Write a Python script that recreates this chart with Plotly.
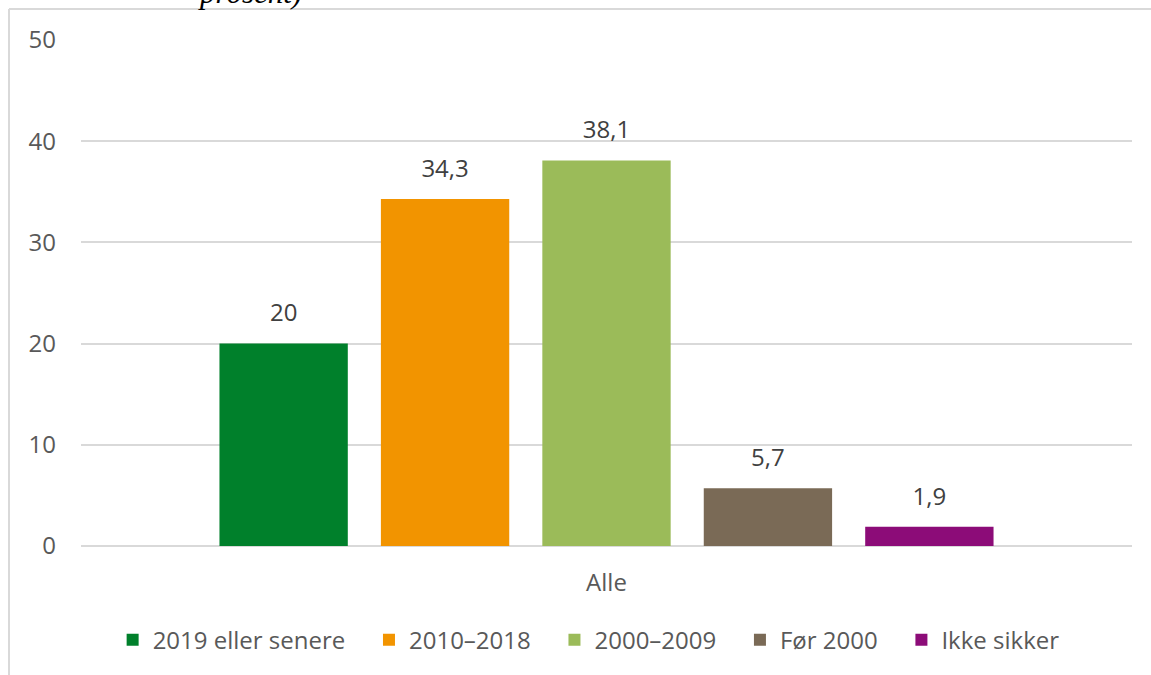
import plotly.graph_objects as go

categories = ["Alle"]
series_names = ["2019 eller senere", "2010–2018", "2000–2009", "Før 2000", "Ikke sikker"]
series_values = [20, 34.3, 38.1, 5.7, 1.9]
series_labels = ["20", "34,3", "38,1", "5,7", "1,9"]
colors = ["#00802B", "#F29400", "#9BBB59", "#7A6A56", "#8C0C78"]
y_ticks = [0, 10, 20, 30, 40, 50]

LABEL_GAP = 1.2  # invisible spacer (data units) to lift the value labels
NBSP = "\u00a0" * 3

fig = go.Figure()
for i, (name, val, lab, col) in enumerate(zip(series_names, series_values, series_labels, colors)):
    legend_name = name + (NBSP if i < len(series_names) - 1 else "")
    fig.add_trace(go.Bar(
        x=categories, y=[val], name=legend_name, marker=dict(color=col, line=dict(width=0)),
        offsetgroup=str(i), hoverinfo="skip",
    ))
    fig.add_trace(go.Bar(
        x=categories, y=[LABEL_GAP], base=[val], showlegend=False,
        marker=dict(color="rgba(0,0,0,0)", line=dict(width=0)),
        offsetgroup=str(i), text=[lab], textposition="outside",
        textfont=dict(family="Open Sans", size=24, color="#404040"),
        cliponaxis=False, hoverinfo="skip",
    ))

fig.update_layout(
    width=1151, height=675,
    margin=dict(l=81, r=19, t=40, b=129),
    paper_bgcolor="white", plot_bgcolor="white",
    barmode="group", bargap=0.232, bargroupgap=0.205,
    font=dict(family="Open Sans", size=24, color="#595959"),
    showlegend=True,
    legend=dict(orientation="h", x=0.483, xanchor="center", y=-0.186, yanchor="middle",
                font=dict(family="Open Sans", size=24, color="#595959"),
                itemwidth=30, traceorder="normal", itemclick=False),
    xaxis=dict(showgrid=False, showline=False, zeroline=False, ticks="",
               ticklabelstandoff=20, tickfont=dict(size=24, color="#595959")),
    yaxis=dict(range=[0, 50], tickvals=y_ticks, showgrid=True, gridcolor="#D9D9D9", gridwidth=1.5,
               zeroline=True, zerolinecolor="#D9D9D9", zerolinewidth=1.5, showline=False, ticks="",
               ticklabelstandoff=24, tickfont=dict(size=24, color="#595959")),
    shapes=[
        dict(type="line", xref="paper", yref="paper", x0=-72/1051, x1=1.2, y0=1 + 31/506, y1=1 + 31/506,
             line=dict(color="#D9D9D9", width=2)),
        dict(type="line", xref="paper", yref="paper", x0=-72/1051, x1=-72/1051, y0=1 + 31/506, y1=-0.3,
             line=dict(color="#D9D9D9", width=2)),
    ],
    annotations=[
        dict(text="<i>prosent)</i>", xref="paper", yref="paper", x=(250 - 81) / 1051, y=1 + 28/506,
             xanchor="center", yanchor="bottom", showarrow=False,
             font=dict(family="Liberation Serif", size=31, color="#000000")),
    ],
)

fig.write_html("out.html", config={"displayModeBar": False},
               post_script="document.body.style.margin='0px';")
